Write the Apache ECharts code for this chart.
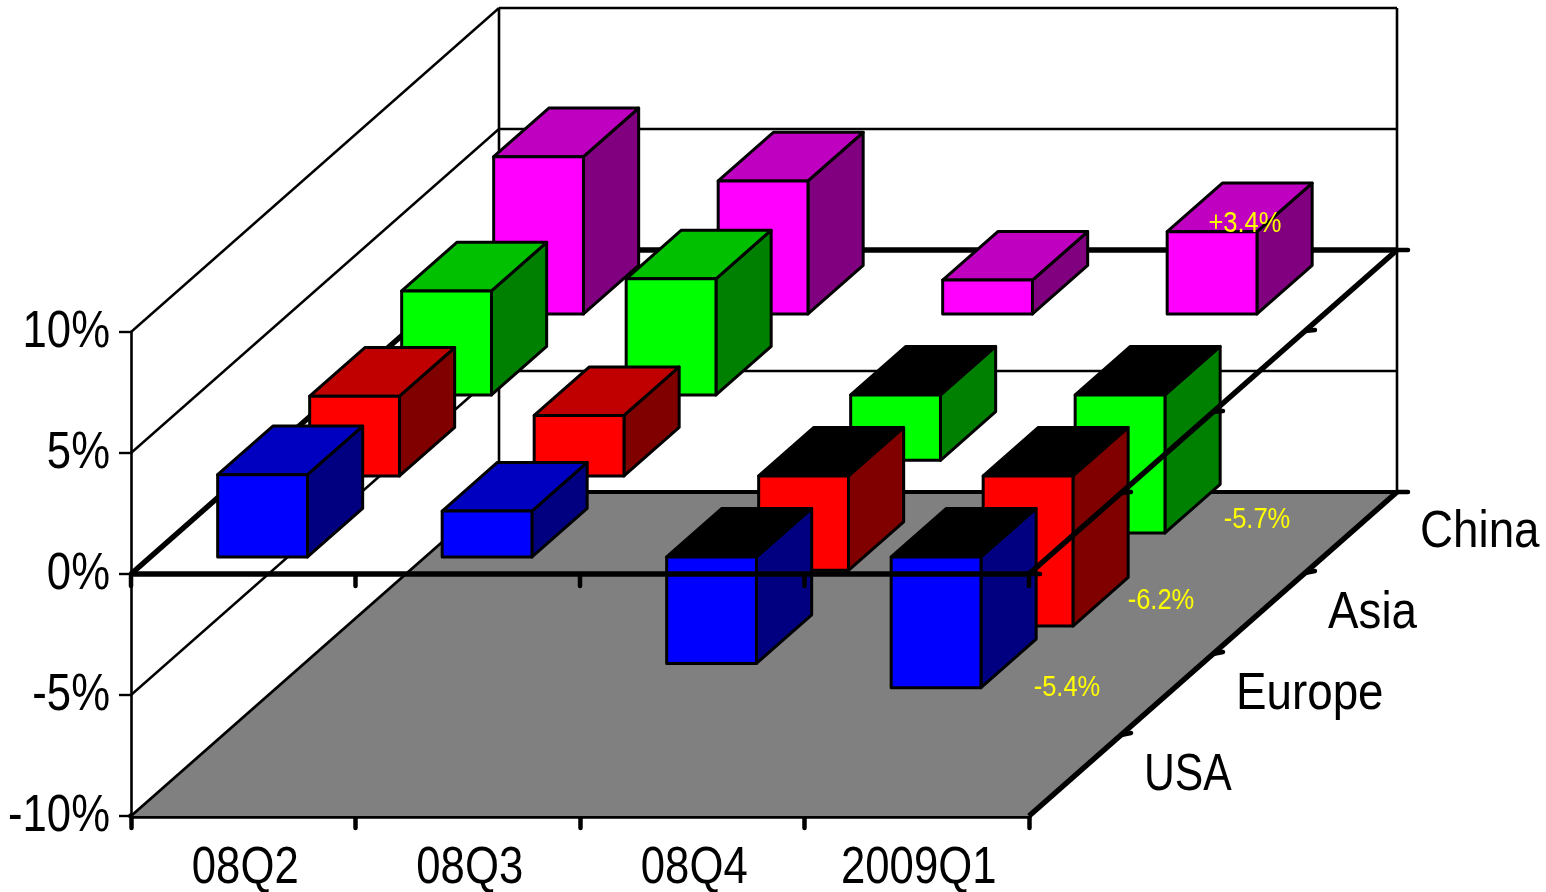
<!DOCTYPE html>
<html>
<head>
<meta charset="utf-8">
<style>html,body{margin:0;padding:0;background:#fff}#c{width:1546px;height:892px}</style>
<script src="https://cdn.jsdelivr.net/npm/echarts@6/dist/echarts.min.js"></script>
</head>
<body>
<div id="c"></div>
<script>
// ---- data ----
const quarters = ['08Q2', '08Q3', '08Q4', '2009Q1'];
const regions = ['USA', 'Europe', 'Asia', 'China'];
const usa = [3.4, 1.9, -4.4, -5.4];
const europe = [3.3, 2.5, -3.9, -6.2];
const asia = [4.3, 4.8, -2.7, -5.7];
const china = [6.5, 5.5, 1.4, 3.4];
const yTicks = [10, 5, 0, -5, -10];
const noteTexts = ['-5.4%', '-6.2%', '-5.7%', '+3.4%'];

// ---- projection and style ----
const FONT = '"Liberation Sans",sans-serif';
const NARROW = 0.84;                    // horizontal squeeze for the narrow typeface
const STEP = [92, -81];                 // oblique shift of one region row
const BAR_FRONT = 0.21, BAR_DEPTH = 0.6, BAR_WIDTH = 0.4;
const palette = [
  {front: '#0000FF', top: '#0000C0', side: '#000080'},
  {front: '#FF0000', top: '#C00000', side: '#800000'},
  {front: '#00FF00', top: '#00C000', side: '#008000'},
  {front: '#FF00FF', top: '#C000C0', side: '#800080'}
];
const rows = [usa, europe, asia, china];
const noteOffsets = [[86, 0], [88, -25], [92, -13], [-12, -8]];

const line = (a, b, w, cap) => ({
  type: 'line',
  shape: {x1: a[0], y1: a[1], x2: b[0], y2: b[1]},
  style: {stroke: '#000', lineWidth: w, lineCap: cap || 'butt', fill: null},
  silent: true
});
const poly = (pts, fill, sw) => ({
  type: 'polygon',
  shape: {points: pts},
  style: {fill: fill, stroke: sw === 0 ? null : '#000', lineWidth: sw === undefined ? 3 : sw, lineJoin: 'round'},
  silent: true
});
const label = (x, y, text, size, fill, align, sx) => ({
  type: 'text',
  x: x,
  y: y,
  scaleX: sx,
  silent: true,
  style: {text: text, fill: fill, font: size + 'px ' + FONT, textAlign: align, textVerticalAlign: 'middle'}
});
const shift = (p, k) => [p[0] + STEP[0] * k, p[1] + STEP[1] * k];

function plotCorners(api) {
  const band = api.size([1, 0])[0];
  const l = api.coord([0, 0])[0] - band / 2;
  const r = api.coord([quarters.length - 1, 0])[0] + band / 2;
  return {l, r, band};
}

// walls, floor and the parts of the frame that sit behind the bars
function renderBack(params, api) {
  const {l, r} = plotCorners(api);
  const n = regions.length;
  const children = [];
  const yBottom = api.coord([0, -10])[1];
  const yTop = api.coord([0, 10])[1];
  children.push(poly([[l, yBottom], shift([l, yBottom], n), shift([r, yBottom], n), [r, yBottom]], '#808080', 0));
  yTicks.forEach(t => {
    if (t === 0 || t === -10) return;
    const y = api.coord([0, t])[1];
    children.push(line([l, y], shift([l, y], n), 2.4));
    children.push(line(shift([l, y], n), shift([r, y], n), 2.4));
  });
  children.push(line(shift([l, yTop], n), shift([l, yBottom], n), 2.6));
  children.push(line(shift([r, yTop], n), shift([r, yBottom], n), 2.6));
  children.push(line([l, yBottom], shift([l, yBottom], n), 2.8));
  children.push(line(shift([l, yBottom], n), shift([r, yBottom], n), 4));
  const y0 = api.coord([0, 0])[1];
  children.push(line([l, y0], shift([l, y0], n), 5.5));
  children.push(line(shift([l, y0], n), shift([r, y0], n), 5.5));
  const pb = shift([r, yBottom], n), p0 = shift([r, y0], n);
  children.push(line(pb, [pb[0] + 11, pb[1]], 4.5, 'round'));
  children.push(line(p0, [p0[0] + 11, p0[1]], 4.5, 'round'));
  for (let k = 1; k < n; k++) {
    const p = shift([r, yBottom], k);
    children.push(line(p, [p[0] + 10, p[1] - 2], 4.5, 'round'));
  }
  children.push(line([r, yBottom], pb, 5.5));
  // axis and row names
  quarters.forEach((q, i) => {
    children.push(label(api.coord([i, 0])[0] + 2, yBottom + 53, q, 52, '#000', 'center', NARROW));
  });
  yTicks.forEach(t => {
    children.push(label(l - 21, api.coord([0, t])[1] + 1, t + '%', 52, '#000', 'right', NARROW));
  });
  regions.forEach((name, k) => {
    const p = shift([r, yBottom], k + 0.5);
    children.push(label(p[0] + 69, p[1], name, 52, '#000', 'left', name === 'USA' ? 0.82 : 0.88));
  });
  return {type: 'group', children};
}

// one row of cuboids
function renderBars(row) {
  return function (params, api) {
    const band = api.size([1, 0])[0];
    const cx = api.coord([api.value(0), 0])[0];
    const y0 = api.coord([0, 0])[1];
    const v = api.coord([0, api.value(1)])[1];
    const d = row + BAR_FRONT;
    const x0 = cx - band * BAR_WIDTH / 2 + STEP[0] * d;
    const x1 = x0 + band * BAR_WIDTH;
    const base = y0 + STEP[1] * d;
    const tip = v + STEP[1] * d;
    const yT = Math.min(base, tip), yB = Math.max(base, tip);
    const dx = STEP[0] * BAR_DEPTH, dy = STEP[1] * BAR_DEPTH;
    const c = palette[row];
    const neg = api.value(1) < 0;
    return {
      type: 'group',
      children: [
        poly([[x1, yT], [x1 + dx, yT + dy], [x1 + dx, yB + dy], [x1, yB]], c.side),
        poly([[x0, yT], [x0 + dx, yT + dy], [x1 + dx, yT + dy], [x1, yT]], neg ? '#000000' : c.top),
        poly([[x0, yT], [x1, yT], [x1, yB], [x0, yB]], c.front)
      ]
    };
  };
}

// frame lines drawn in front of the bars, plus yellow notes
function renderFront(params, api) {
  const {l, r, band} = plotCorners(api);
  const n = regions.length;
  const y0 = api.coord([0, 0])[1];
  const children = [];
  children.push(line([l, y0], [r, y0], 5.5));
  children.push(line([r, y0], shift([r, y0], n), 5.5));
  for (let i = 0; i <= quarters.length; i++) {
    const x = l + band * i;
    children.push(line([x, y0], [x, y0 + 12], 4.5, 'round'));
  }
  children.push(line([r, y0], [r + 11, y0], 4.5, 'round'));
  for (let k = 1; k < n; k++) {
    const p = shift([r, y0], k);
    children.push(line(p, [p[0] + 10, p[1] - 1], 4.5, 'round'));
  }
  rows.forEach((vals, row) => {
    const last = quarters.length - 1;
    const cx = api.coord([last, 0])[0];
    const d = row + BAR_FRONT;
    const x1 = cx + band * BAR_WIDTH / 2 + STEP[0] * d;
    const yv = api.coord([0, vals[last]])[1] + STEP[1] * d;
    const o = noteOffsets[row];
    children.push(label(x1 + o[0], yv + o[1], noteTexts[row], 29, '#FFFF00', 'center', 0.88));
  });
  return {type: 'group', children};
}

const barSeries = rows.map((vals, row) => ({row, vals})).reverse().map(o => ({
  type: 'custom',
  name: regions[o.row],
  coordinateSystem: 'cartesian2d',
  renderItem: renderBars(o.row),
  data: o.vals.map((v, i) => [i, v]),
  encode: {x: 0, y: 1},
  silent: true
}));

const chart = echarts.init(document.getElementById('c'), null, {renderer: 'canvas'});
chart.setOption({
  animation: false,
  backgroundColor: '#ffffff',
  tooltip: {show: false},
  grid: {left: 131, right: 517, top: 332, bottom: 76, containLabel: false, outerBoundsMode: 'none'},
  xAxis: {
    type: 'category',
    data: quarters,
    boundaryGap: true,
    axisLine: {onZero: false, lineStyle: {color: '#000', width: 5.5}},
    axisTick: {show: true, alignWithLabel: false, length: 12, lineStyle: {color: '#000', width: 4.5, cap: 'round'}},
    axisLabel: {show: false},
    splitLine: {show: false}
  },
  yAxis: {
    type: 'value',
    min: -10,
    max: 10,
    interval: 5,
    axisLine: {show: true, lineStyle: {color: '#000', width: 2.6}},
    axisTick: {show: true, length: 12, lineStyle: {color: '#000', width: 2.4}},
    axisLabel: {show: false},
    splitLine: {show: false}
  },
  series: [
    {type: 'custom', name: 'frame-back', coordinateSystem: 'cartesian2d', renderItem: renderBack, data: [[0, 0]], encode: {x: 0, y: 1}, silent: true},
    ...barSeries,
    {type: 'custom', name: 'frame-front', coordinateSystem: 'cartesian2d', renderItem: renderFront, data: [[0, 0]], encode: {x: 0, y: 1}, silent: true}
  ]
});
</script>
</body>
</html>
